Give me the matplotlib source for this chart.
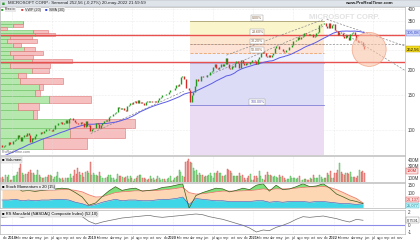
## MSFT weekly chart (ProRealTime style)
import numpy as np
import pandas as pd
import matplotlib
matplotlib.use('Agg')
import matplotlib.pyplot as plt
import matplotlib.dates as mdates
from matplotlib.patches import Ellipse, Rectangle

plt.rcParams['font.family'] = ['Liberation Sans', 'DejaVu Sans']

## Weekly closes before the visible window (only used to warm up the SMA)
warmup_closes = [65.68, 64.95, 66.40, 68.46, 69.00, 68.38, 67.69, 69.96, 71.76, 70.32,
    70.00, 71.21, 68.93, 69.46, 72.78, 73.79, 73.04, 72.68, 72.50, 72.49,
    72.82, 73.94, 73.98, 75.31, 74.41, 74.49, 76.00, 77.49, 78.81, 83.81]

## Weekly closes, 2017-11-03 .. 2022-05-20
closes = [84.14, 84.09, 82.40, 83.26, 84.26, 84.16, 86.85, 85.51, 85.54,
    # 2018
    88.19, 89.60, 90.00, 94.06, 91.78, 88.18, 92.00, 94.06, 93.05, 96.54, 94.60, 87.18, 91.27,
    90.23, 93.08, 95.00, 95.82, 95.16, 97.70, 96.36, 98.36, 100.79, 101.63, 100.13, 100.41, 98.61,
    101.16, 105.43, 106.27, 107.68, 108.04, 109.00, 107.58, 108.40, 112.33, 108.21, 113.37, 114.26, 114.37,
    112.13, 109.57, 108.66, 106.96, 106.49, 109.57, 108.29, 103.11, 110.89, 104.82, 106.03, 98.23, 101.57,
    # 2019
    101.93, 102.80, 107.71, 107.17, 102.78, 105.67, 108.22, 110.97, 112.53, 110.51, 115.91, 117.05, 117.94,
    119.89, 120.95, 123.37, 129.89, 128.90, 127.13, 128.07, 126.24, 123.68, 131.40, 132.45, 136.97, 133.96,
    137.06, 138.90, 136.62, 141.34, 136.90, 137.71, 136.13, 133.39, 137.86, 139.10, 137.32, 139.44, 137.73,
    138.12, 139.68, 137.41, 140.73, 143.72, 145.96, 149.97, 149.59, 151.38, 151.75, 154.53, 157.41, 158.96,
    # 2020
    158.62, 161.34, 167.10, 165.04, 170.23, 183.89, 185.35, 178.59, 162.01, 161.57, 158.83, 137.35, 149.70,
    153.83, 165.14, 178.60, 174.55, 174.57, 184.68, 183.16, 183.51, 183.25, 187.20, 187.74, 195.15, 196.33,
    206.26, 213.67, 202.88, 201.30, 205.01, 212.48, 208.90, 213.02, 228.91, 214.25, 204.03, 200.39, 207.82,
    206.19, 215.81, 219.66, 216.23, 202.47, 223.29, 216.51, 210.39, 215.23, 214.36, 213.26, 218.59, 222.75,
    # 2021
    222.42, 219.62, 212.65, 225.95, 231.96, 242.20, 244.99, 240.97, 232.38, 231.60, 235.75, 230.35, 236.48,
    242.35, 255.85, 260.74, 261.15, 252.18, 252.46, 248.15, 245.17, 249.68, 250.79, 257.89, 259.43, 265.02,
    277.65, 277.94, 280.75, 289.67, 284.91, 289.46, 292.85, 304.36, 299.72, 301.14, 295.71, 299.87, 299.35,
    289.10, 294.85, 304.21, 309.16, 331.62, 336.06, 336.72, 343.11, 329.68, 323.01, 342.54, 323.80, 334.69, 336.32,
    # 2022
    314.04, 310.20, 296.03, 308.26, 305.94, 295.04, 287.93, 297.27, 289.86, 280.07, 300.43, 303.68,
    309.42, 296.97, 279.83, 274.03, 277.52, 274.73, 261.12, 252.56]

## Weekly volume (millions of shares), same weeks as closes
volumes = [115, 110, 120, 90, 150, 120, 160, 75, 70,
    # 2018
    130, 140, 160, 200, 260, 330, 190, 150, 170, 170, 200, 230, 190,
    180, 150, 160, 230, 150, 120, 110, 100, 120, 120, 150, 150, 130,
    90, 120, 140, 200, 110, 90, 100, 80, 110, 110, 110, 170, 110,
    140, 230, 170, 270, 200, 150, 180, 120, 200, 220, 190, 360, 160,
    # 2019
    190, 150, 150, 140, 200, 130, 110, 110, 110, 120, 160, 160, 110,
    100, 80, 90, 170, 130, 130, 120, 100, 120, 130, 90, 140, 110,
    60, 90, 110, 130, 150, 160, 110, 100, 90, 80, 90, 130, 90,
    100, 80, 90, 130, 100, 80, 90, 90, 60, 90, 110, 140, 60,
    # 2020
    80, 100, 120, 130, 230, 200, 140, 120, 360, 380, 410, 360, 340,
    260, 210, 230, 160, 190, 150, 150, 120, 130, 140, 160, 180, 140,
    110, 180, 190, 210, 190, 190, 130, 130, 160, 250, 230, 220, 190,
    140, 130, 130, 130, 190, 140, 150, 110, 70, 110, 130, 170, 70,
    # 2021
    80, 130, 130, 110, 210, 130, 90, 80, 160, 200, 150, 160, 130,
    120, 140, 120, 110, 160, 120, 140, 100, 80, 90, 90, 130, 110,
    100, 100, 90, 100, 140, 80, 80, 90, 90, 70, 80, 110, 90,
    150, 100, 110, 100, 160, 120, 90, 110, 100, 180, 160, 220, 100, 100,
    # 2022
    180, 190, 240, 350, 200, 170, 150, 180, 180, 170, 200, 120,
    120, 120, 100, 140, 230, 200, 210, 190]

## Volume profile (24 price bins, up-volume and down-volume, relative units)
profile_lo, profile_hi = 80.0, 350.0
profile_up = [43, 70, 69, 33, 18, 49, 35, 39, 20, 18, 32, 10,
    32, 13, 10, 24, 13, 7, 10, 35, 33, 0, 13, 23]
profile_down = [44, 55, 66, 4, 21, 42, 5, 4, 43, 8, 17, 40,
    40, 20, 33, 11, 8, 30, 22, 20, 15, 7, 10, 0]

## Fibonacci retracement (Covid low -> Nov 2021 high)
fib_start, fib_end = '2020-03-20', '2021-11-19'
fib_low, fib_high = 132.52, 349.67
fib_levels = [0.0, 0.236, 0.382, 0.5, 0.618, 1.0]

## Support lines and drawn trend lines (date, price)
support_levels = [297.0, 219.0]
trend_lines = [
    (('2018-12-24', 96), ('2020-02-20', 156)),
    (('2020-06-01', 185), ('2021-11-19', 330)),
    (('2020-09-01', 236), ('2021-11-19', 356)),
    (('2021-12-01', 356), ('2022-11-22', 262)),
    (('2022-02-15', 305), ('2022-11-22', 198)),
    (('2020-03-20', 266.7), ('2022-11-22', 266.7)),
]
circle_center = ('2022-06-12', 252)

## Monthly indicator readings, Nov 2017 .. May 2022
stoch_main = [130, 135,
    140, 110, 115, 108, 115, 120, 125, 130, 125, 100, 70, 15,
    30, 75, 110, 140, 115, 125, 130, 110, 115, 120, 135, 140,
    150, 160, -5, 80, 100, 115, 130, 125, 105, 115, 130, 120,
    150, 160, 110, 150, 120, 125, 140, 160, 140, 145, 160, 130,
    90, 70, 50, 40, 26]
stoch_signal = [120, 125,
    128, 125, 122, 118, 116, 116, 117, 120, 120, 115, 105, 85,
    70, 72, 85, 100, 105, 108, 112, 112, 113, 114, 118, 122,
    128, 135, 100, 90, 92, 98, 105, 110, 110, 110, 112, 114,
    118, 125, 120, 125, 125, 126, 130, 135, 138, 138, 142, 135,
    120, 100, 80, 60, 30]
stoch_cyan = [50, 50,
    55, 45, 50, 45, 50, 50, 55, 55, 50, 35, 25, 10,
    20, 35, 45, 55, 45, 50, 50, 45, 45, 50, 55, 55,
    60, 70, 20, 60, 55, 50, 45, 45, 40, 40, 40, 40,
    45, 45, 35, 40, 35, 40, 40, 40, 35, 40, 40, 35,
    30, 25, 25, 20, 25]
rs_mansfield = [1.2, 1.3,
    1.4, 1.2, 1.4, 1.3, 1.4, 1.3, 1.5, 1.6, 1.7, 1.5, 1.3, 0.6,
    0.2, 0.5, 0.7, 0.9, 1.1, 1.2, 1.3, 1.4, 1.5, 1.3, 1.2, 1.3,
    1.4, 1.5, 1.6, 1.7, 1.6, 1.3, 1.1, 0.9, 0.6, 0.3, 0.0, -0.4,
    -1.0, -0.7, -0.8, -0.3, 0.0, 0.4, 0.9, 1.3, 1.2, 1.3, 1.4, 1.2,
    1.0, 0.7, 0.5, 0.9, 0.76]

month_names = ['ene', 'feb', 'mar', 'abr', 'may', 'jun', 'jul', 'ago', 'sep', 'oct', 'nov', 'dic']

## Dates
n = min(len(closes), len(volumes))
week_dates = pd.date_range('2017-11-03', periods=n, freq='W-FRI')
warm_dates = pd.date_range(end='2017-10-27', periods=len(warmup_closes), freq='W-FRI')
all_close = pd.Series(warmup_closes + closes[:n], index=warm_dates.append(week_dates))
sma30 = all_close.rolling(30).mean()
opens = all_close.shift(1).loc[week_dates].values
cl = np.array(closes[:n])
vol = np.array(volumes[:n])
up = cl >= opens
month_dates = pd.date_range('2017-11-01', periods=len(rs_mansfield), freq='MS') + pd.Timedelta(days=14)

## Figure and panels (pixel layout of a 420x243 image)
W, H = 420, 243
fig = plt.figure(figsize=(4.2, 2.43), dpi=100)
fig.patch.set_facecolor('white')

def px_rect(x0, y0, x1, y1):
    return [x0 / W, 1 - y1 / H, (x1 - x0) / W, (y1 - y0) / H]

main_rect = px_rect(0, 7, 405, 155)
ax_prof = fig.add_axes(main_rect, zorder=0)
ax = fig.add_axes(main_rect, zorder=1)
ax.patch.set_alpha(0)
ax_vol = fig.add_axes(px_rect(0, 156, 405, 182), sharex=ax)
ax_sto = fig.add_axes(px_rect(0, 183, 405, 208), sharex=ax)
ax_rsi = fig.add_axes(px_rect(0, 210, 405, 234), sharex=ax)

xmin, xmax = pd.Timestamp('2017-11-06'), pd.Timestamp('2022-11-22')
grid_c = '#dcdcdc'
vgrid = [pd.Timestamp(f'{y}-{m:02d}-01') for y in range(2018, 2023) for m in (1, 7)]

for a in [ax, ax_vol, ax_sto, ax_rsi]:
    for s in a.spines.values():
        s.set_color('#b8b8b8')
        s.set_linewidth(0.5)
    a.yaxis.tick_right()
    a.tick_params(axis='y', labelsize=3.3, length=0, pad=2, colors='#404040')
    a.tick_params(axis='x', length=0)
    for d in vgrid:
        a.axvline(d, color=grid_c, lw=0.4, ls=':', zorder=0)

## Main panel: volume profile underneath
ax_prof.set_yscale('log')
ax_prof.set_ylim(75, 410)
ax_prof.set_xlim(0, 405)
bin_w = (profile_hi - profile_lo) / len(profile_up)
bin_lo = profile_lo + bin_w * np.arange(len(profile_up))
ax_prof.barh(bin_lo, profile_up, height=bin_w, align='edge', color='#b4e8ac',
    edgecolor='#68c060', linewidth=0.4)
ax_prof.barh(bin_lo, profile_down, left=profile_up, height=bin_w, align='edge',
    color='#f6c0c0', edgecolor='#de7070', linewidth=0.4)
ax_prof.axis('off')

ax.set_yscale('log')
ax.set_ylim(75, 410)
ax.set_xlim(xmin, xmax)
ax.yaxis.set_minor_locator(matplotlib.ticker.NullLocator())
ax.yaxis.set_minor_formatter(matplotlib.ticker.NullFormatter())
price_ticks = [100, 150, 200, 350, 400]
ax.set_yticks(price_ticks)
ax.set_yticklabels([str(p) for p in price_ticks])
for p in [100, 150, 200, 250, 300, 350, 400]:
    ax.axhline(p, color=grid_c, lw=0.4, ls=':', zorder=0)

## Fibonacci bands
f0, f1 = pd.Timestamp(fib_start), pd.Timestamp(fib_end)
fib_prices = [fib_high - l * (fib_high - fib_low) for l in fib_levels]
band_colors = ['#fbf5cc', '#fde6cf', '#fde3d6', '#eef0fb', '#dcdcf7']
for i in range(len(fib_prices) - 1):
    ax.fill_between([f0, f1], fib_prices[i + 1], fib_prices[i], color=band_colors[i],
        lw=0, zorder=0.5)
ax.fill_between([f0, f1], 75, fib_low, color='#ecdcf3', lw=0, zorder=0.5)
level_colors = ['#a8a070', '#f2c48a', '#f2b898', '#f0a060', '#b8b8e8', '#8080d8']
for lvl, p, c in zip(fib_levels, fib_prices, level_colors):
    ls = '--' if lvl == 0.5 else '-'
    ax.plot([f0, f1], [p, p], color=c, lw=0.6, ls=ls, zorder=0.6)
    if lvl != 0.618:
        ax.text(pd.Timestamp('2021-01-20'), p * 1.012, f'{lvl * 100:.2f}%', fontsize=2.6,
            ha='center', va='bottom', color='#806040' if lvl < 1 else '#6060b0',
            bbox=dict(boxstyle='square,pad=0.25', fc='white', ec='#909090', lw=0.3), zorder=3)

## Support lines and trend lines
for lev in support_levels:
    ax.axhline(lev, color='#e85050', lw=1.0, zorder=2)
for (d0, p0), (d1, p1) in trend_lines:
    ax.plot([pd.Timestamp(d0), pd.Timestamp(d1)], [p0, p1], color='#8c8c8c', lw=0.5,
        dashes=(3, 2), zorder=2)

## SMA 30 and candles
ax.plot(sma30.index, sma30.values, color='#5b5be6', lw=0.7, zorder=3)
ax.vlines(week_dates, opens, cl, colors=np.where(up, '#1f9a1f', '#d42a2a'), lw=1.0, zorder=4)

## Highlight circle around the latest price
fig.canvas.draw()
cx, cy = ax.transAxes.inverted().transform(
    ax.transData.transform((mdates.date2num(pd.Timestamp(circle_center[0])), circle_center[1])))
ax.add_patch(Ellipse((cx, cy), 34 / 405, 34 / 148, transform=ax.transAxes,
    fc='#f9c4a8', ec='#ee8a66', lw=0.6, alpha=0.6, zorder=5))

## Price boxes on the right axis
ytr = ax.get_yaxis_transform()
ax.text(1.004, sma30.iloc[-1], f'{sma30.iloc[-1]:.2f}'.replace('.', ','), transform=ytr,
    fontsize=3.1, va='center', ha='left', color='#3040c0', clip_on=False, zorder=6,
    bbox=dict(boxstyle='square,pad=0.25', fc='#cfd8fa', ec='#6070d0', lw=0.3))
ax.text(1.004, cl[-1], f'{cl[-1]:.2f}'.replace('.', ','), transform=ytr,
    fontsize=3.1, va='center', ha='left', color='black', clip_on=False, zorder=6,
    bbox=dict(boxstyle='square,pad=0.25', fc='#f4dc20', ec='#b09000', lw=0.3))
ax.text(0.85, 0.93, 'MICROSOFT CORP.', transform=ax.transAxes, fontsize=5.5,
    color='#e2e2e2', ha='center', va='center', fontweight='bold', zorder=0.2)
ax.text(0.003, 0.005, 'ProRealTime.com', transform=ax.transAxes, fontsize=2.6,
    color='#707070', ha='left', va='bottom', zorder=6)
ax.tick_params(axis='x', labelbottom=False)

## Volume panel
ax_vol.bar(week_dates, vol, width=4.5, color=np.where(up, '#9ee39a', '#f3a0a0'),
    edgecolor=np.where(up, '#4caf50', '#d9534f'), linewidth=0.3)
ax_vol.set_ylim(40, 460)
ax_vol.set_yticks([100, 300, 400])
ax_vol.set_yticklabels(['100M', '300M', '400M'])
ax_vol.tick_params(axis='x', labelbottom=False)
ax_vol.text(1.004, 215, f'{vol[-1]}M', transform=ax_vol.get_yaxis_transform(),
    fontsize=2.9, va='center', ha='left', color='#d02020', clip_on=False,
    bbox=dict(boxstyle='square,pad=0.2', fc='#fbe0e0', ec='#d04040', lw=0.3))

## Stochastic-type oscillator panel
ms = np.array(stoch_main, dtype=float)
sg = np.array(stoch_signal, dtype=float)
cy_ = np.array(stoch_cyan, dtype=float)
ax_sto.fill_between(month_dates, 0, sg, color='#fdd7b4', lw=0)
ax_sto.fill_between(month_dates, ms, sg, where=ms > sg, interpolate=True, color='#7ee07a', lw=0)
ax_sto.fill_between(month_dates, 0, cy_, color='#3fd6e8', lw=0)
ax_sto.plot(month_dates, cy_, color='#2a58c8', lw=0.4)
ax_sto.plot(month_dates, sg, color='#f07a6a', lw=0.6)
ax_sto.plot(month_dates, ms, color='#3b5a1c', lw=0.5)
ax_sto.set_ylim(-4, 165)
ax_sto.set_yticks([100, 150])
ax_sto.set_yticklabels(['100', '150'])
ax_sto.tick_params(axis='x', labelbottom=False)
sto_tr = ax_sto.get_yaxis_transform()
ax_sto.text(1.004, 52, '26,137', transform=sto_tr, fontsize=2.8, va='center', ha='left',
    color='#d02020', clip_on=False,
    bbox=dict(boxstyle='square,pad=0.2', fc='#fbe0e0', ec='#d04040', lw=0.3))
ax_sto.text(1.004, 14, '25,077', transform=sto_tr, fontsize=2.8, va='center', ha='left',
    color='#108090', clip_on=False,
    bbox=dict(boxstyle='square,pad=0.2', fc='#c8f4f8', ec='#30b0c0', lw=0.3))

## RS Mansfield panel
ax_rsi.axhline(0, color='#8c8ce8', lw=0.8)
ax_rsi.plot(month_dates, rs_mansfield, color='#6e6e6e', lw=0.5)
ax_rsi.set_ylim(-1.3, 2.3)
ax_rsi.set_yticks([-1, 0, 2])
ax_rsi.set_yticklabels(['-1', '0', '2'])
ax_rsi.text(1.004, rs_mansfield[-1], '0,7591', transform=ax_rsi.get_yaxis_transform(),
    fontsize=2.8, va='center', ha='left', color='#303030', clip_on=False,
    bbox=dict(boxstyle='square,pad=0.2', fc='white', ec='#808080', lw=0.3))

## Month labels in Spanish, year instead of January
tick_dates = pd.date_range('2017-11-01', '2022-11-01', freq='MS')
tick_labels = [str(d.year) if d.month == 1 else month_names[d.month - 1] for d in tick_dates]
ax_rsi.set_xticks(tick_dates)
ax_rsi.set_xticklabels(tick_labels)
ax_rsi.tick_params(axis='x', labelsize=2.9, pad=1.5, colors='#404040')
for lbl in ax_rsi.get_xticklabels():
    if lbl.get_text().isdigit():
        lbl.set_fontweight('bold')
ax.set_xlim(xmin, xmax)

## Panel captions
caption_box = dict(boxstyle='square,pad=0.2', fc='#eeeeee', ec='#c0c0c0', lw=0.3)
ax_vol.text(0.004, 0.93, '\u25a0 Volumen', transform=ax_vol.transAxes, fontsize=3.0,
    va='top', ha='left', bbox=caption_box)
ax_sto.text(0.004, 0.93, '\u25a0 Stoch Momentum x 20 (15)', transform=ax_sto.transAxes,
    fontsize=3.0, va='top', ha='left', bbox=caption_box)
ax_rsi.text(0.004, 0.93, '\u25a0 RS Mansfield (NASDAQ Composite Index) (52,10)',
    transform=ax_rsi.transAxes, fontsize=3.0, va='top', ha='left', bbox=caption_box)

## Header and legend
fig.patches.append(Rectangle((0, 1 - 6.5 / H), 1, 6.5 / H, transform=fig.transFigure,
    fc='#dfe4ea', ec='#b8c0c8', lw=0.4, zorder=10))
fig.text(2 / W, 1 - 3.3 / H, '\u25a0', fontsize=3.5, color='#2a9a2a', va='center', zorder=11)
fig.text(8 / W, 1 - 3.3 / H, 'MICROSOFT CORP.: Semanal 252,56 (-0,27%) 20-may-2022 21:59:59',
    fontsize=3.2, color='#202020', va='center', zorder=11)
fig.text(393 / W, 1 - 3.3 / H, 'www.ProRealTime.com', fontsize=3.2, color='#202020',
    va='center', ha='right', fontweight='bold', zorder=11)
legend_items = [('Precio', '#2a9a2a', 1), ('VWP (20)', '#d84040', 21), ('SMA (30)', '#3040e0', 45)]
for label, c, x0 in legend_items:
    fig.text(x0 / W, 1 - 9.5 / H, '\u25a0', fontsize=3.0, color=c, va='center', zorder=11)
    fig.text((x0 + 4) / W, 1 - 9.5 / H, label, fontsize=2.7, color='#303030', va='center',
        zorder=11, bbox=dict(boxstyle='square,pad=0.1', fc='#e8e8e8', ec='none'))

fig.savefig('out.png', dpi=100)
